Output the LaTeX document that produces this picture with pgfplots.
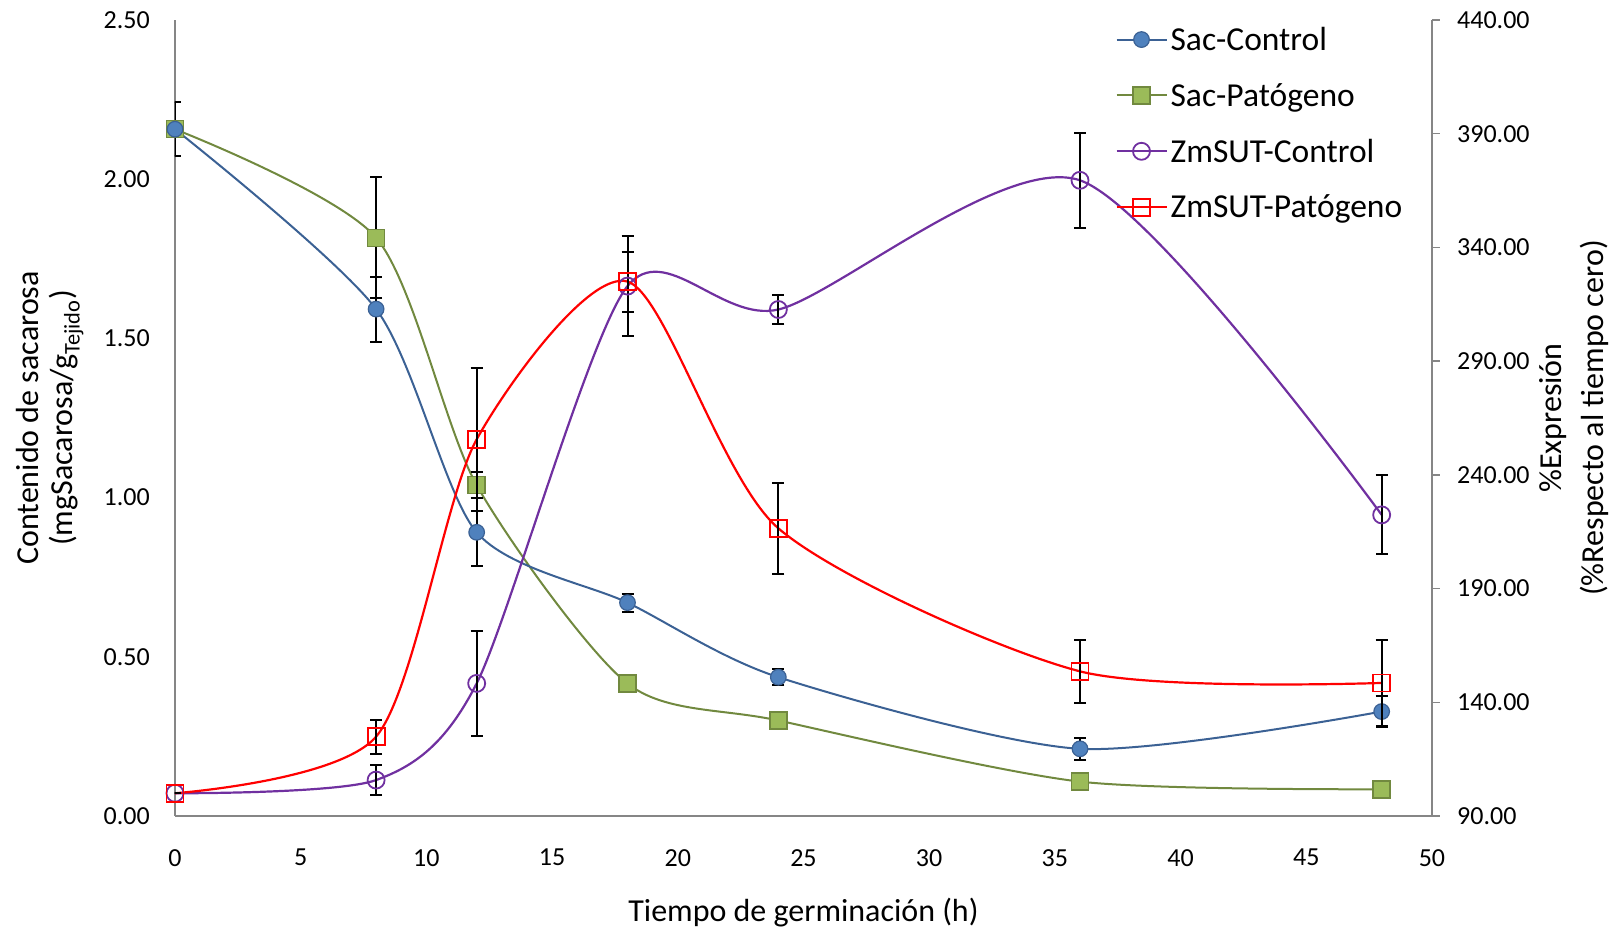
\documentclass[border=0pt]{standalone}
\usepackage{fontspec}
\setmainfont{Carlito}
\usepackage{pgfplots}
\usepackage{pgfplotstable}
\pgfplotsset{compat=1.18}
\definecolor{sacC}{HTML}{4F81BD}
\definecolor{sacCedge}{HTML}{3B6194}
\definecolor{sacP}{HTML}{9BBB59}
\definecolor{sacPedge}{HTML}{71893F}
\definecolor{zmC}{HTML}{7030A0}
\definecolor{zmP}{HTML}{FF0000}
\definecolor{axgray}{HTML}{868686}

\pgfplotstableread{
x y e
0 2.157 0.085
8 1.592 0.102
12 0.891 0.107
18 0.670 0.028
24 0.436 0.026
36 0.211 0.035
48 0.328 0.050
}\sacControl
\pgfplotstableread{
x y e
0 2.157 0.085
8 1.816 0.190
12 1.039 0.040
18 0.416 0.020
24 0.300 0.020
36 0.108 0.020
48 0.084 0.020
}\sacPatogeno
\pgfplotstableread{
x y e
0 100.0 0
8 105.8 6.6
12 148.3 23.0
18 323.0 22.0
24 312.7 6.2
36 369.5 21.0
48 222.4 17.4
}\zmControl
\pgfplotstableread{
x y e
0 100.0 0
8 124.9 7.5
12 255.6 31.4
18 325.0 13.2
24 216.5 19.9
36 153.6 13.7
48 148.5 19.0
}\zmPatogeno

\pgfplotsset{
  sacCstyle/.style={color=sacCedge, line width=2pt, mark=*, mark size=7.8pt,
    mark options={fill=sacC, draw=sacCedge, line width=1.2pt}},
  sacPstyle/.style={color=sacPedge, line width=2pt, mark=square*, mark size=8.5pt,
    mark options={fill=sacP, draw=sacPedge, line width=1.5pt}},
  zmCstyle/.style={color=zmC, line width=2.2pt, mark=o, mark size=8.5pt,
    mark options={draw=zmC, line width=1.8pt}},
  zmPstyle/.style={color=zmP, line width=2.2pt, mark=square, mark size=8.5pt,
    mark options={draw=zmP, line width=1.8pt}},
  myerr/.style={error bars/.cd, y dir=both, y explicit,
    error bar style={black, line width=2pt},
    error mark options={rotate=90, mark size=6pt, black, line width=2pt}},
  common/.style={
    scale only axis, width=1257pt, height=796pt,
    xmin=0, xmax=50,
    /pgf/number format/assume math mode=true,
    tick label style={font=\fontsize{26}{30}\selectfont, black},
    label style={font=\fontsize{32}{34}\selectfont, black},
  },
}

\begin{document}
\begin{tikzpicture}
\begin{axis}[common,
  name=ax,
  ymin=0, ymax=2.5,
  axis x line*=bottom, axis y line*=left,
  axis line style={axgray, line width=1.5pt, -},
  xtick={0,5,...,50}, ytick={0,0.5,...,2.5},
  major tick length=0pt,
  y tick label style={/pgf/number format/fixed, /pgf/number format/fixed zerofill, /pgf/number format/precision=2},
  y tick label style={anchor=east, inner sep=0pt, xshift=-25pt},
  x tick label style={anchor=north, inner sep=0pt, yshift=-33pt},
  xlabel={Tiempo de germinación (h)},
  xlabel style={at={([yshift=-97pt]axis description cs:0.5,0)}, anchor=center},
  ylabel={Contenido de sacarosa\\(mgSacarosa/g\textsubscript{Tejido})},
  ylabel style={align=center, at={([xshift=-125pt]axis description cs:0,0.5)}, anchor=center},
]
\addplot[sacPstyle, smooth, tension=0.45, myerr] table[x=x, y=y, y error=e] {\sacPatogeno};
\addplot[sacCstyle, smooth, tension=0.45, myerr] table[x=x, y=y, y error=e] {\sacControl};
\end{axis}
\begin{axis}[common,
  ymin=90, ymax=440,
  axis y line*=right, axis x line=none,
  axis line style={axgray, line width=1.5pt, -},
  ytick={90,140,...,440},
  y tick label style={/pgf/number format/fixed, /pgf/number format/fixed zerofill, /pgf/number format/precision=2},
  major tick length=8pt, tick align=outside,
  ytick style={axgray, line width=1.5pt},
  y tick label style={anchor=west, inner sep=0pt, xshift=17pt},
  ylabel={\%Expresión\\(\%Respecto al tiempo cero)},
  ylabel style={align=center, font=\fontsize{32}{42}\selectfont, at={([xshift=142pt]axis description cs:1,0.5)}, anchor=center},
  legend style={at={(0.748,0.995)}, anchor=north west, draw=none, fill=none,
    font=\fontsize{33.5}{36}\selectfont, row sep=25.3pt, inner sep=0pt,
    nodes={inner sep=3pt}},
  legend cell align=left,
  legend image code/.code={\draw[mark repeat=2, mark phase=2, #1] plot coordinates {(0pt,0pt) (25pt,0pt) (50pt,0pt)};},
]
\addlegendimage{sacCstyle}
\addlegendentry{Sac-Control}
\addlegendimage{sacPstyle}
\addlegendentry{Sac-Patógeno}
\addplot[zmCstyle, smooth, tension=0.45, myerr] table[x=x, y=y, y error=e] {\zmControl};
\addlegendentry{ZmSUT-Control}
\addplot[zmPstyle, smooth, tension=0.45, myerr] table[x=x, y=y, y error=e] {\zmPatogeno};
\addlegendentry{ZmSUT-Patógeno}
\end{axis}
\pgfresetboundingbox
\path (ax.south west) +(-175pt,-115pt) rectangle +(1442pt,816pt);
\end{tikzpicture}
\end{document}
